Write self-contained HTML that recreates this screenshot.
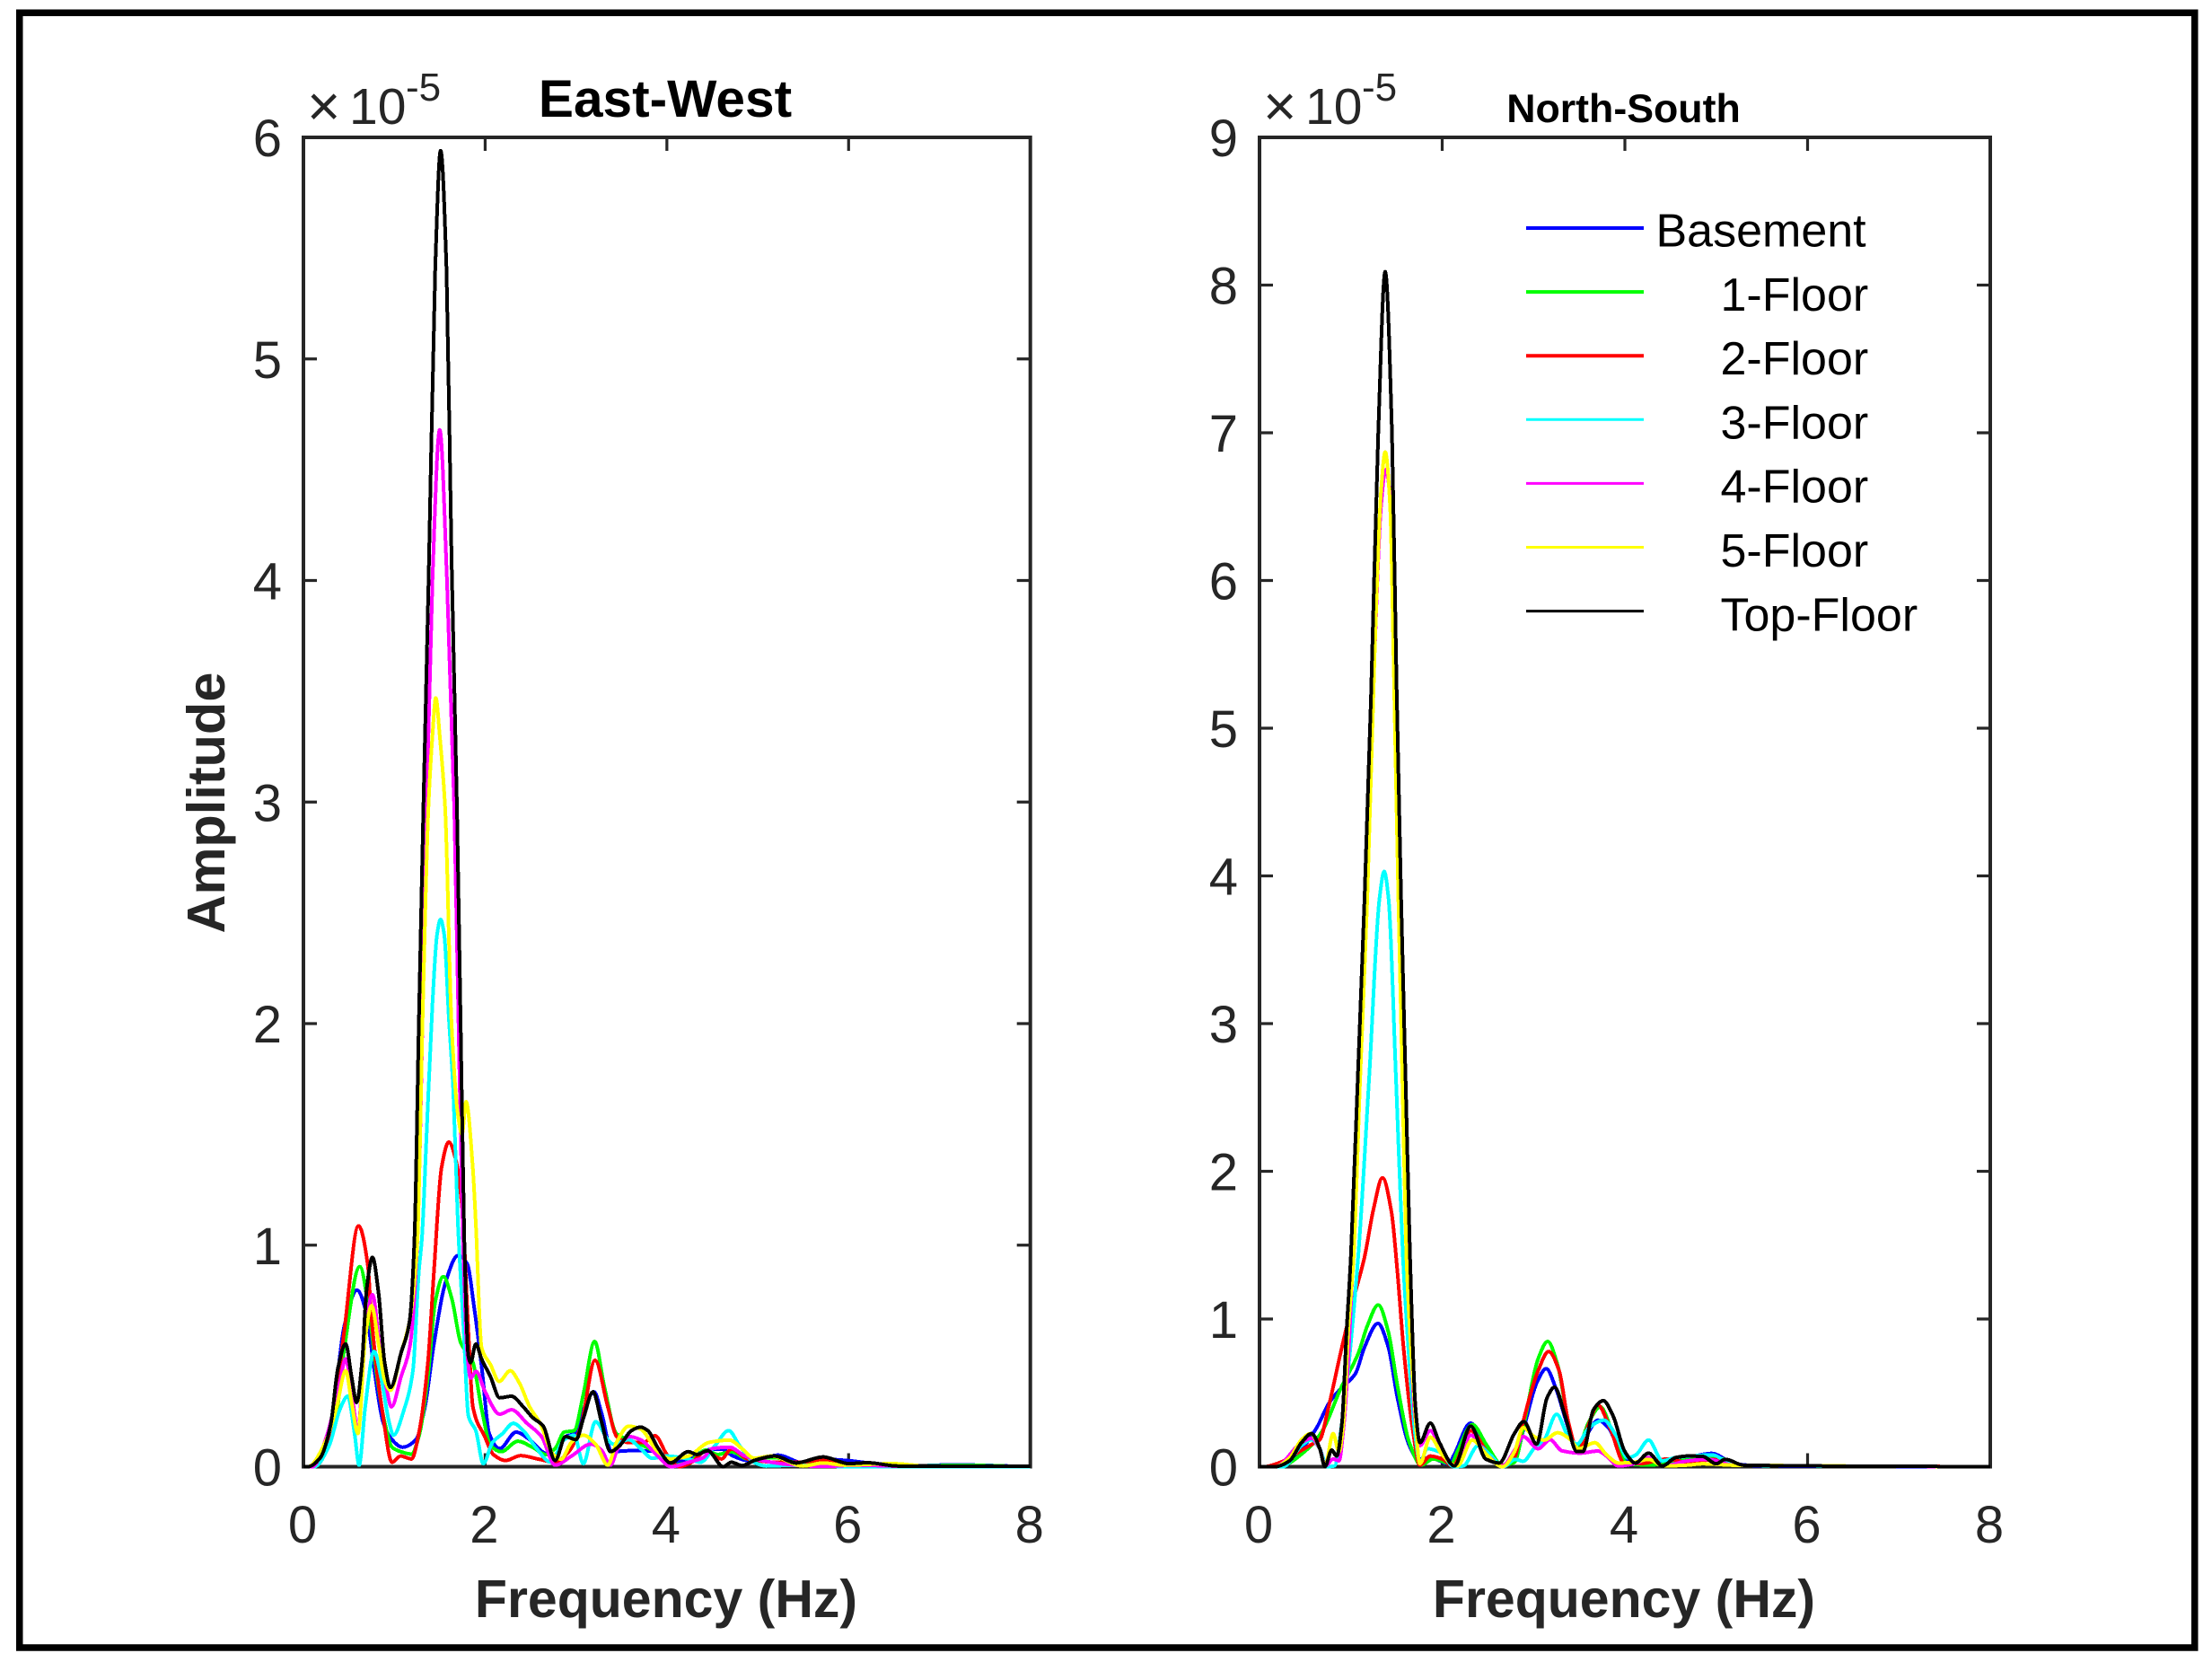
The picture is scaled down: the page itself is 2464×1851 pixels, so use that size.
<!DOCTYPE html>
<html lang="en">
<head>
<meta charset="utf-8">
<title>East-West and North-South amplitude spectra</title>
<style>
html,body{margin:0;padding:0;background:#fff;}
svg{display:block;}
text{font-family:"Liberation Sans",Arial,sans-serif;}
</style>
</head>
<body>
<svg id="figure" xmlns="http://www.w3.org/2000/svg" width="2464" height="1851" viewBox="0 0 2464 1851">
  <rect x="0" y="0" width="2464" height="1851" fill="#fff"/>
  <rect x="21.75" y="14.25" width="2423" height="1820.75" fill="none" stroke="#000" stroke-width="7.5"/>
  <g id="ew-panel"></g>
  <g id="ns-panel"></g>

  <text x="741" y="130" font-size="58.6" font-weight="700" text-anchor="middle" fill="#000">East-West</text>
  <text x="1808.5" y="136" font-size="44.7" font-weight="700" text-anchor="middle" fill="#000">North-South</text>
  <text transform="translate(250,894) rotate(-90)" font-size="59.5" font-weight="700" text-anchor="middle" fill="#262626">Amplitude</text>
  <text x="742" y="1801" font-size="59" font-weight="700" text-anchor="middle" fill="#262626">Frequency (Hz)</text>
  <text x="1809" y="1801" font-size="59" font-weight="700" text-anchor="middle" fill="#262626">Frequency (Hz)</text>

  <g fill="#262626">
    <text x="342" y="140" font-size="64">×</text>
    <text x="389" y="138" font-size="57">10</text>
    <text x="452" y="112" font-size="44">-5</text>
  </g>
  <g fill="#262626">
    <text x="1407" y="140" font-size="64">×</text>
    <text x="1454" y="138" font-size="57">10</text>
    <text x="1517" y="112" font-size="44">-5</text>
  </g>

  <g id="legend"></g>
</svg>

<script>
// Shared axis data
const xTickValues = [0, 2, 4, 6, 8];
const ewYTickValues = [0, 1, 2, 3, 4, 5, 6];
const nsYTickValues = [0, 1, 2, 3, 4, 5, 6, 7, 8, 9];
const seriesNames = ['Basement', '1-Floor', '2-Floor', '3-Floor', '4-Floor', '5-Floor', 'Top-Floor'];
const seriesColors = ['#0000ff', '#00ff00', '#ff0000', '#00ffff', '#ff00ff', '#ffff00', '#000000'];

// East-West series: [frequency Hz, amplitude x 1e-5]
const ewBasement = [[0,0],[.09,0],[.28,.12],[.45,.635],[.59,.797],[.695,.69],[.777,.446],[.876,.203],[.975,.122],[1.09,.088],[1.238,.122],[1.337,.27],[1.436,.554],[1.568,.838],[1.7,.953],[1.8,.918],[1.88,.716],[1.963,.446],[2.045,.149],[2.16,.082],[2.34,.156],[2.49,.122],[2.655,.061],[2.77,.048],[2.885,.136],[2.98,.149],[3.08,.257],[3.198,.338],[3.28,.244],[3.395,.068],[3.58,.072],[3.74,.072],[3.906,.068],[4.04,.02],[4.235,.03],[4.43,.075],[4.6,.08],[4.73,.048],[4.89,.028],[5.22,.052],[5.52,.014],[5.72,.034],[5.98,.028],[6.54,.004],[7.2,.008],[8,0]];
const ewFloor1 = [[0,0],[.12,0],[.35,.2],[.448,.527],[.62,.903],[.73,.676],[.81,.405],[.893,.203],[.975,.088],[1.07,.068],[1.19,.057],[1.27,.136],[1.37,.406],[1.45,.743],[1.54,.858],[1.634,.757],[1.73,.561],[1.864,.473],[1.963,.257],[2.06,.095],[2.177,.068],[2.36,.115],[2.52,.088],[2.67,.055],[2.77,.082],[2.87,.156],[2.98,.163],[3.08,.325],[3.205,.565],[3.31,.365],[3.445,.149],[3.58,.122],[3.74,.095],[3.94,.048],[4.07,.007],[4.24,.02],[4.43,.075],[4.56,.055],[4.71,.068],[4.89,.035],[5.19,.041],[5.45,.017],[5.72,.02],[6,.001],[7.3,.006],[8,0]];
const ewFloor2 = [[0,0],[.12,0],[.28,.1],[.448,.608],[.606,1.087],[.71,.905],[.744,.696],[.876,.23],[.975,.02],[1.07,.048],[1.19,.035],[1.27,.15],[1.37,.47],[1.436,.878],[1.52,1.35],[1.6,1.465],[1.68,1.38],[1.75,1.15],[1.815,.61],[1.865,.27],[1.996,.136],[2.09,.055],[2.225,.028],[2.39,.05],[2.59,.034],[2.77,.02],[2.92,.068],[3.05,.176],[3.21,.48],[3.35,.27],[3.45,.135],[3.58,.109],[3.74,.109],[3.87,.14],[4,.055],[4.14,0],[4.27,.02],[4.43,.07],[4.6,.035],[4.71,.08],[4.89,.035],[5.22,.02],[5.45,.02],[5.72,.03],[5.98,.007],[6.54,.003],[8,0]];
const ewFloor3 = [[0,0],[.12,0],[.283,.095],[.4,.257],[.487,.318],[.563,.149],[.613,.007],[.68,.27],[.777,.52],[.86,.392],[.942,.203],[.99,.142],[1.107,.257],[1.205,.433],[1.27,.878],[1.304,1.03],[1.354,1.485],[1.42,2.09],[1.47,2.4],[1.509,2.47],[1.55,2.4],[1.6,2.03],[1.65,1.69],[1.7,1.1],[1.765,.608],[1.815,.23],[1.897,.163],[1.98,.014],[2.08,.109],[2.19,.149],[2.31,.196],[2.42,.163],[2.556,.088],[2.72,.021],[2.87,.122],[2.98,.142],[3.08,.014],[3.215,.203],[3.35,.122],[3.41,.102],[3.58,.122],[3.71,.082],[3.84,.038],[4,.048],[4.235,.035],[4.37,.02],[4.53,.095],[4.68,.163],[4.8,.095],[4.96,.02],[5.09,.003],[5.42,.007],[6,0],[8,0]];
const ewFloor4 = [[0,0],[.1,0],[.25,.13],[.4,.38],[.465,.487],[.53,.338],[.6,.163],[.68,.608],[.76,.777],[.843,.527],[.91,.365],[.968,.27],[1.074,.406],[1.17,.54],[1.255,1.03],[1.31,2],[1.354,2.97],[1.42,4],[1.5,4.68],[1.58,4],[1.66,2.97],[1.707,2],[1.756,1.03],[1.8,.527],[1.84,.4],[1.9,.43],[2,.338],[2.16,.237],[2.29,.257],[2.46,.196],[2.62,.136],[2.77,.007],[2.95,.048],[3.165,.102],[3.28,.075],[3.38,.007],[3.46,.082],[3.59,.136],[3.71,.122],[3.87,.061],[4.05,0],[4.235,.02],[4.4,.041],[4.5,.082],[4.69,.088],[4.86,.048],[5.15,.02],[5.42,.007],[5.72,.001],[6.08,.007],[6.6,.002],[8,.001]];
const ewFloor5 = [[0,0],[.05,0],[.25,.12],[.366,.27],[.465,.433],[.53,.29],[.6,.15],[.68,.58],[.75,.727],[.827,.554],[.893,.392],[.958,.345],[1.074,.513],[1.17,.662],[1.255,1.03],[1.31,2],[1.375,2.97],[1.42,3.3],[1.457,3.47],[1.5,3.3],[1.56,2.97],[1.63,2],[1.7,1.59],[1.745,1.5],[1.79,1.647],[1.864,1.35],[1.897,1.1],[1.96,.54],[2.06,.46],[2.154,.385],[2.276,.433],[2.375,.379],[2.49,.27],[2.605,.196],[2.75,.055],[2.835,.034],[2.95,.11],[3.08,.142],[3.215,.102],[3.35,.007],[3.445,.109],[3.58,.183],[3.71,.17],[3.9,.068],[4.04,.035],[4.235,.048],[4.466,.11],[4.69,.12],[4.83,.08],[4.96,.038],[5.15,.048],[5.5,.003],[5.72,.017],[5.95,.007],[6.48,.014],[6.87,.003],[8,.003]];
const ewTopFloor = [[0,0],[.05,0],[.185,.04],[.3,.19],[.38,.445],[.465,.554],[.53,.405],[.586,.29],[.645,.47],[.695,.797],[.76,.945],[.827,.783],[.893,.473],[.958,.358],[1.074,.513],[1.17,.662],[1.222,1.03],[1.27,2],[1.32,2.97],[1.38,4.05],[1.45,5.4],[1.51,5.94],[1.575,5.4],[1.63,4.1],[1.69,2.97],[1.73,2],[1.77,1.03],[1.815,.5],[1.84,.47],[1.897,.554],[1.96,.487],[2.06,.405],[2.16,.311],[2.29,.318],[2.42,.27],[2.52,.223],[2.64,.183],[2.77,.028],[2.885,.136],[3,.122],[3.08,.217],[3.187,.338],[3.28,.203],[3.38,.068],[3.48,.095],[3.61,.163],[3.71,.179],[3.79,.163],[3.906,.082],[4.04,.017],[4.235,.068],[4.33,.055],[4.45,.072],[4.62,0],[4.71,.02],[4.83,.005],[4.96,.028],[5.19,.048],[5.42,.017],[5.72,.044],[6,.014],[6.21,.018],[6.54,.003],[8,.002]];

// North-South series: [frequency Hz, amplitude x 1e-5]
const nsBasement = [[0,0],[.17,0],[.43,.1],[.626,.264],[.757,.427],[.888,.528],[1.05,.63],[1.15,.81],[1.297,.97],[1.41,.81],[1.51,.467],[1.64,.143],[1.74,.05],[1.87,.06],[2.07,.02],[2.13,.08],[2.31,.295],[2.49,.12],[2.66,.01],[2.79,.03],[2.886,.244],[3.05,.589],[3.138,.664],[3.246,.528],[3.38,.264],[3.476,.12],[3.59,.224],[3.705,.315],[3.82,.264],[3.95,.1],[4.065,.03],[4.26,.03],[4.46,.025],[4.69,.06],[4.95,.09],[5.2,.02],[5.5,.005],[8,0]];
const nsFloor1 = [[0,0],[.2,0],[.527,.12],[.69,.245],[.888,.528],[1.084,.771],[1.18,.953],[1.3,1.095],[1.41,.913],[1.51,.548],[1.64,.163],[1.77,.011],[1.9,.052],[2.1,.02],[2.165,.1],[2.33,.285],[2.49,.143],[2.66,.011],[2.79,.03],[2.9,.305],[3.05,.73],[3.155,.848],[3.263,.69],[3.38,.305],[3.476,.12],[3.607,.305],[3.73,.406],[3.87,.224],[4.03,.02],[4.26,.012],[4.46,.02],[4.69,.05],[5,.06],[5.3,.01],[8,0]];
const nsFloor2 = [[0,0],[.05,0],[.23,.03],[.43,.1],[.56,.147],[.66,.183],[.757,.406],[.888,.771],[1.02,1.115],[1.15,1.42],[1.25,1.75],[1.346,1.956],[1.445,1.723],[1.51,1.318],[1.576,.811],[1.674,.264],[1.756,.011],[1.87,.072],[2,.052],[2.116,.005],[2.313,.244],[2.49,.102],[2.66,.01],[2.79,.062],[2.886,.305],[3.05,.65],[3.165,.78],[3.28,.65],[3.38,.305],[3.49,.102],[3.59,.264],[3.705,.416],[3.836,.264],[4,.02],[4.16,.02],[4.46,.052],[4.69,.03],[5,.05],[5.3,.01],[8,0]];
const nsFloor3 = [[0,0],[.26,0],[.46,.143],[.57,.183],[.66,.122],[.74,0],[.82,.005],[.904,.305],[1.08,1.42],[1.2,2.63],[1.314,3.85],[1.365,4.03],[1.412,3.85],[1.494,2.63],[1.57,1.42],[1.64,.71],[1.707,.2],[1.756,.03],[1.838,.122],[1.97,.1],[2.133,0],[2.23,.005],[2.395,.143],[2.526,.08],[2.67,0],[2.8,.05],[2.886,.037],[3.017,.133],[3.115,.18],[3.253,.355],[3.38,.204],[3.476,.153],[3.607,.264],[3.77,.315],[3.9,.214],[4.03,.06],[4.12,.08],[4.26,.18],[4.41,.04],[4.557,.062],[4.69,.07],[4.95,.08],[5.2,.01],[8,0]];
const nsFloor4 = [[0,0],[.17,0],[.46,.163],[.57,.193],[.66,.122],[.72,.005],[.806,.052],[.87,.04],[.92,.264],[1.025,1.42],[1.1,2.7],[1.17,3.85],[1.26,5.5],[1.33,6.5],[1.38,6.75],[1.44,6.5],[1.49,5.4],[1.54,3.85],[1.585,2.6],[1.625,1.42],[1.707,.305],[1.756,.143],[1.87,.244],[2,.1],[2.15,.005],[2.313,.214],[2.49,.08],[2.66,.005],[2.8,.12],[2.886,.204],[3.05,.122],[3.18,.183],[3.31,.108],[3.51,.092],[3.705,.106],[3.8,.072],[3.93,.005],[4.13,.025],[4.26,.062],[4.42,.005],[4.69,.04],[4.9,.05],[5.2,.01],[8,0]];
const nsFloor5 = [[0,0],[.17,0],[.33,.06],[.46,.183],[.56,.224],[.66,.122],[.717,.005],[.806,.224],[.87,.1],[.92,.305],[.97,.913],[1.03,1.42],[1.1,2.6],[1.18,3.85],[1.26,5.5],[1.33,6.6],[1.376,6.87],[1.43,6.5],[1.47,5.4],[1.52,3.85],[1.565,2.6],[1.608,1.42],[1.69,.5],[1.756,.02],[1.87,.2],[2,.08],[2.165,.005],[2.33,.18],[2.49,.08],[2.66,0],[2.79,.1],[2.886,.264],[3.017,.2],[3.115,.18],[3.263,.23],[3.41,.18],[3.49,.12],[3.67,.163],[3.8,.08],[3.93,.025],[4.1,.03],[4.26,.05],[4.42,.005],[4.69,.011],[4.85,.02],[5.2,.01],[8,0]];
const nsTopFloor = [[0,0],[.17,0],[.33,.04],[.46,.163],[.57,.224],[.66,.122],[.717,.001],[.79,.112],[.845,.072],[.904,.305],[.953,.913],[1,1.42],[1.08,2.7],[1.15,3.85],[1.22,5.2],[1.3,7],[1.376,8.09],[1.45,7],[1.5,5.3],[1.55,3.85],[1.6,2.6],[1.648,1.42],[1.707,.406],[1.756,.163],[1.87,.295],[1.97,.163],[2.133,.005],[2.313,.275],[2.477,.052],[2.624,.025],[2.79,.224],[2.893,.305],[3.034,.153],[3.148,.467],[3.23,.538],[3.345,.345],[3.476,.102],[3.54,.102],[3.656,.386],[3.764,.447],[3.87,.345],[4,.102],[4.115,.025],[4.26,.092],[4.41,.005],[4.557,.062],[4.69,.072],[4.85,.07],[5,.02],[5.1,.05],[5.3,.01],[8,0]];

const ewSeries = [ewBasement, ewFloor1, ewFloor2, ewFloor3, ewFloor4, ewFloor5, ewTopFloor];
const nsSeries = [nsBasement, nsFloor1, nsFloor2, nsFloor3, nsFloor4, nsFloor5, nsTopFloor];

const SVG_NS = 'http://www.w3.org/2000/svg';
const AXIS_COLOR = '#262626';

function make(tag, parent) {
  const el = document.createElementNS(SVG_NS, tag);
  parent.appendChild(el);
  return el;
}

// Monotone cubic path through data points (no overshoot between samples)
function monotonePath(points) {
  const n = points.length;
  const slopes = [];
  for (let i = 0; i < n - 1; i++) {
    slopes.push((points[i + 1][1] - points[i][1]) / (points[i + 1][0] - points[i][0]));
  }
  const tangents = [slopes[0]];
  for (let i = 1; i < n - 1; i++) {
    if (slopes[i - 1] * slopes[i] <= 0) {
      tangents.push(0);
    } else {
      const h0 = points[i][0] - points[i - 1][0];
      const h1 = points[i + 1][0] - points[i][0];
      const w0 = 2 * h1 + h0;
      const w1 = h1 + 2 * h0;
      tangents.push((w0 + w1) / (w0 / slopes[i - 1] + w1 / slopes[i]));
    }
  }
  tangents.push(slopes[n - 2]);
  let d = 'M' + points[0][0].toFixed(2) + ' ' + points[0][1].toFixed(2);
  for (let i = 0; i < n - 1; i++) {
    const h = (points[i + 1][0] - points[i][0]) / 3;
    d += 'C' + (points[i][0] + h).toFixed(2) + ' ' + (points[i][1] + tangents[i] * h).toFixed(2) +
         ' ' + (points[i + 1][0] - h).toFixed(2) + ' ' + (points[i + 1][1] - tangents[i + 1] * h).toFixed(2) +
         ' ' + points[i + 1][0].toFixed(2) + ' ' + points[i + 1][1].toFixed(2);
  }
  return d;
}

function drawPanel(group, prefix, box, xMax, yMax, yTicks, series, yLabelX) {
  const xScale = function (v) { return box.left + (v / xMax) * (box.right - box.left); };
  const yScale = function (v) { return box.bottom - (v / yMax) * (box.bottom - box.top); };

  // Axes box
  const frame = make('rect', group);
  frame.setAttribute('x', box.left);
  frame.setAttribute('y', box.top);
  frame.setAttribute('width', box.right - box.left);
  frame.setAttribute('height', box.bottom - box.top);
  frame.setAttribute('fill', 'none');
  frame.setAttribute('stroke', AXIS_COLOR);
  frame.setAttribute('stroke-width', '4');
  
  

  // X ticks and labels
  xTickValues.forEach(function (v) {
    const x = xScale(v);
    const tb = make('path', group);
    tb.setAttribute('d', 'M' + x + ' ' + box.bottom + 'V' + (box.bottom - 15) + 'M' + x + ' ' + box.top + 'V' + (box.top + 15));
    tb.setAttribute('stroke', AXIS_COLOR);
    tb.setAttribute('stroke-width', '3.2');
    
    
    const label = make('text', group);
    label.setAttribute('x', x - 1);
    label.setAttribute('y', 1718);
    label.setAttribute('font-size', '58');
    label.setAttribute('text-anchor', 'middle');
    label.setAttribute('fill', AXIS_COLOR);
    
    
    label.textContent = String(v);
  });

  // Y ticks and labels
  yTicks.forEach(function (v) {
    const y = yScale(v);
    const tb = make('path', group);
    tb.setAttribute('d', 'M' + box.left + ' ' + y + 'H' + (box.left + 15) + 'M' + box.right + ' ' + y + 'H' + (box.right - 15));
    tb.setAttribute('stroke', AXIS_COLOR);
    tb.setAttribute('stroke-width', '3.2');
    
    
    const label = make('text', group);
    label.setAttribute('x', yLabelX);
    label.setAttribute('y', y + 21);
    label.setAttribute('font-size', '58');
    label.setAttribute('text-anchor', 'end');
    label.setAttribute('fill', AXIS_COLOR);
    
    
    label.textContent = String(v);
  });

  // Series lines (aliased, drawn over the axes as in the reference)
  series.forEach(function (data, i) {
    const pts = data.map(function (p) { return [xScale(p[0]), yScale(p[1])]; });
    const line = make('path', group);
    line.setAttribute('d', monotonePath(pts));
    line.setAttribute('fill', 'none');
    line.setAttribute('stroke', seriesColors[i]);
    line.setAttribute('stroke-width', '4');
    line.setAttribute('stroke-linejoin', 'round');
    line.setAttribute('shape-rendering', 'crispEdges');
    
    
  });
}

drawPanel(document.getElementById('ew-panel'), 'east-west',
  { left: 338, right: 1147.7, top: 153, bottom: 1633.5 }, 8, 6, ewYTickValues, ewSeries, 314);
drawPanel(document.getElementById('ns-panel'), 'north-south',
  { left: 1403, right: 2217, top: 153, bottom: 1633.5 }, 8, 9, nsYTickValues, nsSeries, 1379);

// Legend
const legendGroup = document.getElementById('legend');
seriesNames.forEach(function (name, i) {
  const y = 254 + i * 71.1;
  const swatch = make('line', legendGroup);
  swatch.setAttribute('x1', 1700);
  swatch.setAttribute('x2', 1831);
  swatch.setAttribute('y1', y);
  swatch.setAttribute('y2', y);
  swatch.setAttribute('stroke', seriesColors[i]);
  swatch.setAttribute('stroke-width', i < 3 ? '4' : '3');
  
  
  const label = make('text', legendGroup);
  label.setAttribute('x', i === 0 ? 1844.5 : 1916.5);
  label.setAttribute('y', y + 20.5 + i * 0.2);
  label.setAttribute('font-size', '52');
  label.setAttribute('fill', '#000');
  
  
  label.textContent = name;
});
</script>
</body>
</html>
